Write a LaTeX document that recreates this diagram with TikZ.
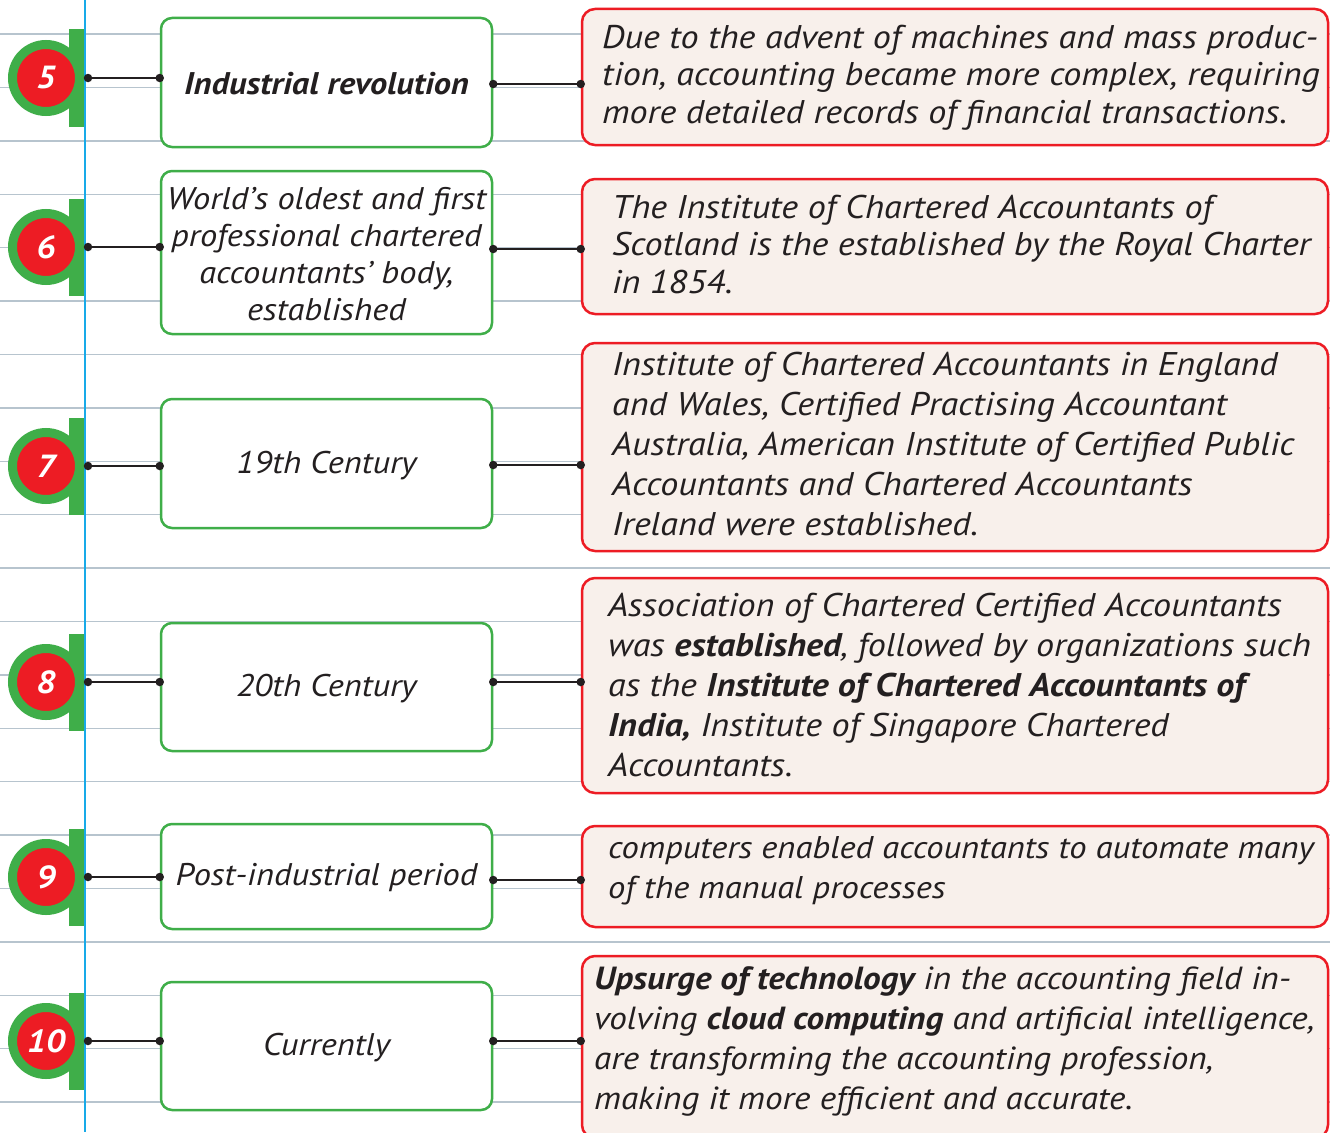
\documentclass[tikz,border=0pt]{standalone}
\usepackage{fontspec}
\setmainfont{PT Sans}[FakeStretch=1.1]
\definecolor{gr}{HTML}{3FAE49}
\definecolor{rd}{HTML}{ED1C24}
\definecolor{bg}{HTML}{F8F0EB}
\definecolor{rule}{HTML}{B7C4CE}
\definecolor{blu}{HTML}{18AAE8}
\definecolor{ink}{HTML}{231F20}
\begin{document}
\begin{tikzpicture}[x=1pt,y=-1pt,
  lbox/.style={draw=gr, line width=2.5pt, rounded corners=11pt, fill=white, minimum width=331pt, inner sep=0pt},
  rbox/.style={draw=rd, line width=2.5pt, rounded corners=13pt, fill=bg, minimum width=746pt, inner sep=0pt},
  ltext/.style={align=center, inner sep=0pt, text=ink, font=\itshape\fontsize{31.3}{37}\selectfont},
  rtext/.style={align=left, inner sep=0pt, anchor=west, text=ink, font=\itshape\fontsize{32.8}{40}\selectfont},
  badge/.style={circle, fill=rd, draw=gr, line width=9pt, minimum size=67pt, inner sep=0pt, text=white, font=\bfseries\itshape\fontsize{32}{32}\selectfont},
  tab/.style={fill=gr, draw=none, minimum width=15pt, minimum height=97pt, inner sep=0pt},
  conn/.style={draw=ink, line width=2.2pt},
  dot/.style={circle, fill=ink, minimum size=8.5pt, inner sep=0pt}
]
\clip (0,0) rectangle (1330,1132);
\fill[white] (0,0) rectangle (1330,1132);
% ruled lines
\foreach \k in {0,...,20} {
  \draw[rule, line width=1.4pt] (0,{34+53.4*\k}) -- (1330,{34+53.4*\k});
}
% blue margin line
\draw[blu, line width=2.5pt] (85,0) -- (85,1132);

% badges
\foreach \n/\y in {5/78,6/247,7/466,8/682,9/877,10/1041} {
  \node[tab] (t\n) at (76,\y) {};
  \node[badge] (b\n) at (46,\y) {\n};
  \coordinate (a\n) at (88,\y);
}

% left boxes
\node[lbox, minimum height=129pt] (l5) at (326.5,82.5) {};
\node[lbox, minimum height=163pt] (l6) at (326.5,252.5) {};
\node[lbox, minimum height=129pt] (l7) at (326.5,463.5) {};
\node[lbox, minimum height=128pt] (l8) at (326.5,687) {};
\node[lbox, minimum height=105pt] (l9) at (326.5,876.5) {};
\node[lbox, minimum height=128pt] (l10) at (326.5,1046) {};

\node[ltext] (lt5) at (326.5,84) {\bfseries Industrial revolution};
\node[ltext] (lt6) at (326.5,254) {World’s oldest and first\\professional chartered\\accountants’ body,\\established};
\node[ltext] (lt7) at (326.5,466) {19th Century};
\node[ltext] (lt8) at (326.5,689) {20th Century};
\node[ltext] (lt9) at (326.5,878) {Post-industrial period};
\node[ltext] (lt10) at (326.5,1048) {Currently};

% right boxes
\node[rbox, minimum height=136pt] (r5) at (955,77) {};
\node[rbox, minimum height=135pt] (r6) at (955,246.5) {};
\node[rbox, minimum height=208pt] (r7) at (955,447) {};
\node[rbox, minimum height=215pt] (r8) at (955,685.5) {};
\node[rbox, minimum height=101pt] (r9) at (955,876.5) {};
\node[rbox, minimum height=182pt] (r10) at (955,1047) {};

\node[rtext, font=\itshape\fontsize{32.8}{37.5}\selectfont] (rt5) at (602,77.5) {Due to the advent of machines and mass produc-\\tion, accounting became more complex, requiring\\more detailed records of financial transactions.};
\node[rtext, font=\itshape\fontsize{32.8}{37.5}\selectfont] (rt6) at (612,244.5) {The Institute of Chartered Accountants of\\Scotland is the established by the Royal Charter\\in 1854.};
\node[rtext] (rt7) at (612,444.5) {Institute of Chartered Accountants in England\\and Wales, Certified Practising Accountant\\Australia, American Institute of Certified Public\\Accountants and Chartered Accountants\\Ireland were established.};
\node[rtext] (rt8) at (608,685) {Association of Chartered Certified Accountants\\was \textbf{established}, followed by organizations such\\as the \textbf{Institute of Chartered Accountants of}\\\textbf{India,} Institute of Singapore Chartered\\Accountants.};
\node[rtext, font=\itshape\fontsize{31.4}{40}\selectfont] (rt9) at (608,871) {computers enabled accountants to automate many\\of the manual processes};
\node[rtext, font=\itshape\fontsize{32}{40}\selectfont] (rt10) at (594,1041) {\textbf{Upsurge of technology} in the accounting field in-\\volving \textbf{cloud computing} and artificial intelligence,\\are transforming the accounting profession,\\making it more efficient and accurate.};

% connectors badge -> left box
\foreach \n in {5,6,7,8,9,10} {
  \draw[conn] (a\n) -- (l\n.west |- a\n);
  \node[dot] at (a\n) {};
  \node[dot] at (l\n.west |- a\n) {};
}
% connectors left box -> right box
\foreach \n/\y in {5/84,6/249,7/465,8/682,9/880,10/1041} {
  \coordinate (m\n) at (0,\y);
  \draw[conn] (l\n.east |- m\n) -- (r\n.west |- m\n);
  \node[dot] at (l\n.east |- m\n) {};
  \node[dot] at (r\n.west |- m\n) {};
}
\end{tikzpicture}
\end{document}
